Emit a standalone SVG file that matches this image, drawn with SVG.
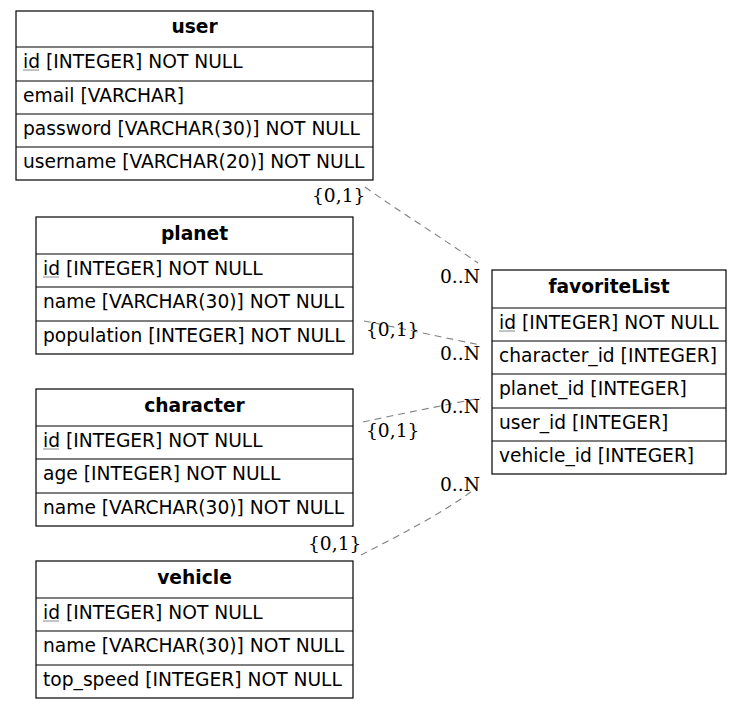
<svg xmlns="http://www.w3.org/2000/svg" width="743" height="709" viewBox="0 0 743 709">
<style>
  .box { fill: #fff; stroke: #000; stroke-width: 1.2; }
  .sep { stroke: #000; stroke-width: 1.2; }
  .hdr { font-family: "DejaVu Sans", sans-serif; font-size: 18.67px; font-weight: bold; text-anchor: middle; fill: #000; }
  .fld { font-family: "DejaVu Sans", sans-serif; font-size: 18.67px; fill: #000; }
  .pk { stroke: #888; stroke-width: 1; }
  .edge { fill: none; stroke: #808080; stroke-width: 1.1; stroke-dasharray: 7,5; }
  .card { font-family: "DejaVu Serif", serif; font-size: 18.67px; fill: #000; }
</style>
<rect width="743" height="709" fill="#fff"/>

<g id="connectors">
  <path class="edge" d="M365,187 C400,212 445,240 478,263"/>
  <path class="edge" d="M364,321 C400,328 445,338 481,345"/>
  <path class="edge" d="M363,422 C400,414 445,405 481,398"/>
  <path class="edge" d="M361,555 C400,535 445,512 476,488"/>
  <text class="card" x="312" y="202">{0,1}</text>
  <text class="card" x="440" y="283">0..N</text>
  <text class="card" x="366" y="336">{0,1}</text>
  <text class="card" x="440" y="360">0..N</text>
  <text class="card" x="366" y="437">{0,1}</text>
  <text class="card" x="440" y="413">0..N</text>
  <text class="card" x="308" y="550">{0,1}</text>
  <text class="card" x="440" y="491">0..N</text>
</g>

<g id="user">
  <rect class="box" x="16" y="11" width="357" height="169"/>
  <line class="sep" x1="16" y1="47" x2="373" y2="47"/>
  <line class="sep" x1="16" y1="81" x2="373" y2="81"/>
  <line class="sep" x1="16" y1="114" x2="373" y2="114"/>
  <line class="sep" x1="16" y1="147" x2="373" y2="147"/>
  <text class="hdr" x="194.5" y="33">user</text>
  <text class="fld" x="23" y="68">id [INTEGER] NOT NULL</text>
  <line class="pk" x1="23" y1="70" x2="39" y2="70"/>
  <text class="fld" x="23" y="102">email [VARCHAR]</text>
  <text class="fld" x="23" y="135">password [VARCHAR(30)] NOT NULL</text>
  <text class="fld" x="23" y="168">username [VARCHAR(20)] NOT NULL</text>
</g>

<g id="planet">
  <rect class="box" x="36" y="217" width="317" height="137"/>
  <line class="sep" x1="36" y1="254" x2="353" y2="254"/>
  <line class="sep" x1="36" y1="287" x2="353" y2="287"/>
  <line class="sep" x1="36" y1="321" x2="353" y2="321"/>
  <text class="hdr" x="194.5" y="240">planet</text>
  <text class="fld" x="43" y="275">id [INTEGER] NOT NULL</text>
  <line class="pk" x1="43" y1="277" x2="59" y2="277"/>
  <text class="fld" x="43" y="308">name [VARCHAR(30)] NOT NULL</text>
  <text class="fld" x="43" y="342">population [INTEGER] NOT NULL</text>
</g>

<g id="character">
  <rect class="box" x="36" y="389" width="317" height="137"/>
  <line class="sep" x1="36" y1="426" x2="353" y2="426"/>
  <line class="sep" x1="36" y1="459" x2="353" y2="459"/>
  <line class="sep" x1="36" y1="493" x2="353" y2="493"/>
  <text class="hdr" x="194.5" y="412">character</text>
  <text class="fld" x="43" y="447">id [INTEGER] NOT NULL</text>
  <line class="pk" x1="43" y1="449" x2="59" y2="449"/>
  <text class="fld" x="43" y="480">age [INTEGER] NOT NULL</text>
  <text class="fld" x="43" y="514">name [VARCHAR(30)] NOT NULL</text>
</g>

<g id="vehicle">
  <rect class="box" x="36" y="561" width="317" height="137"/>
  <line class="sep" x1="36" y1="598" x2="353" y2="598"/>
  <line class="sep" x1="36" y1="631" x2="353" y2="631"/>
  <line class="sep" x1="36" y1="665" x2="353" y2="665"/>
  <text class="hdr" x="194.5" y="584">vehicle</text>
  <text class="fld" x="43" y="619">id [INTEGER] NOT NULL</text>
  <line class="pk" x1="43" y1="621" x2="59" y2="621"/>
  <text class="fld" x="43" y="652">name [VARCHAR(30)] NOT NULL</text>
  <text class="fld" x="43" y="686">top_speed [INTEGER] NOT NULL</text>
</g>

<g id="favoriteList">
  <rect class="box" x="492" y="270" width="234" height="204"/>
  <line class="sep" x1="492" y1="308" x2="726" y2="308"/>
  <line class="sep" x1="492" y1="341" x2="726" y2="341"/>
  <line class="sep" x1="492" y1="374" x2="726" y2="374"/>
  <line class="sep" x1="492" y1="408" x2="726" y2="408"/>
  <line class="sep" x1="492" y1="441" x2="726" y2="441"/>
  <text class="hdr" x="609" y="293">favoriteList</text>
  <text class="fld" x="499" y="329">id [INTEGER] NOT NULL</text>
  <line class="pk" x1="499" y1="331" x2="515" y2="331"/>
  <text class="fld" x="499" y="362">character_id [INTEGER]</text>
  <text class="fld" x="499" y="395">planet_id [INTEGER]</text>
  <text class="fld" x="499" y="429">user_id [INTEGER]</text>
  <text class="fld" x="499" y="462">vehicle_id [INTEGER]</text>
</g>
</svg>
